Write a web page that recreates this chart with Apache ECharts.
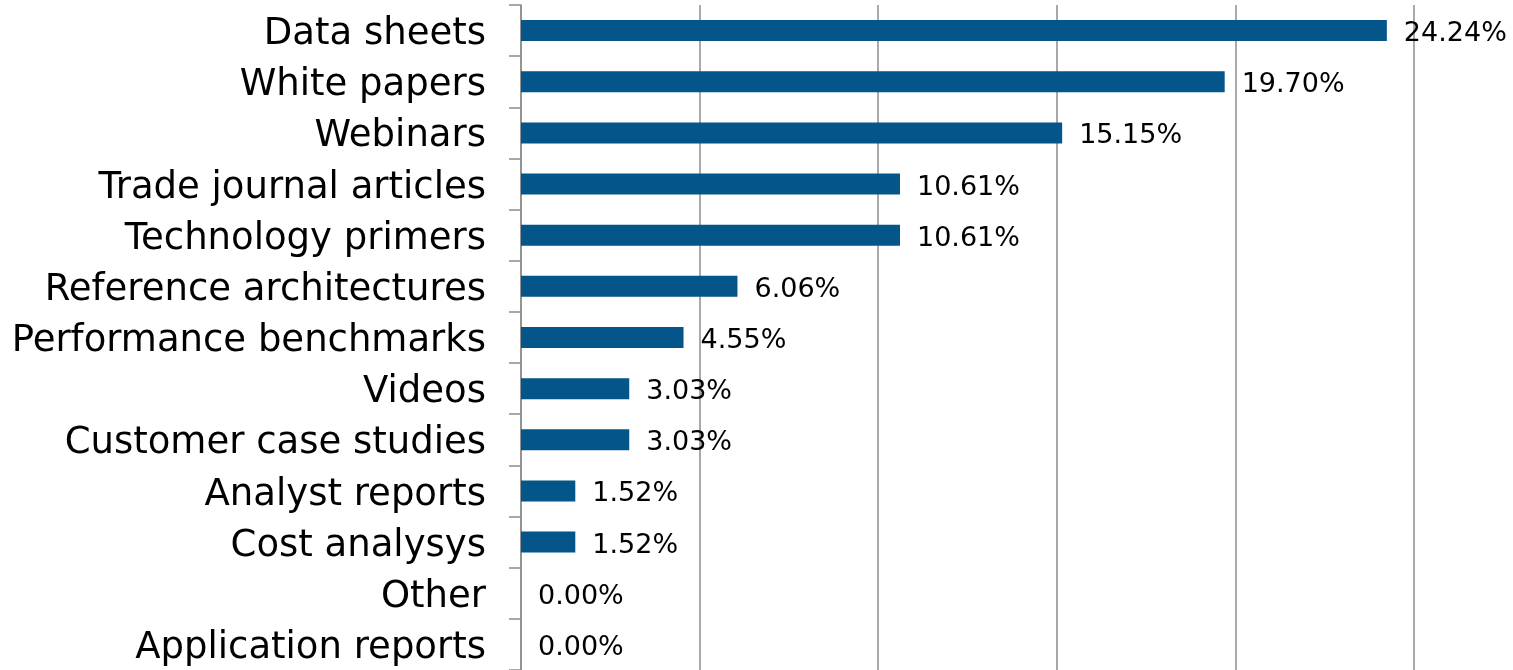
<!DOCTYPE html>
<html>
<head>
<meta charset="utf-8">
<script src="https://cdn.jsdelivr.net/npm/echarts@6/dist/echarts.min.js"></script>
<style>
html,body{margin:0;padding:0;background:#fff;}
#main{width:1513px;height:670px;}
</style>
</head>
<body>
<div id="main"></div>
<script>
// categories, top to bottom
var categories = ['Data sheets', 'White papers', 'Webinars', 'Trade journal articles',
    'Technology primers', 'Reference architectures', 'Performance benchmarks', 'Videos',
    'Customer case studies', 'Analyst reports', 'Cost analysys', 'Other', 'Application reports'];
var shares = [24.24, 19.70, 15.15, 10.61, 10.61, 6.06, 4.55, 3.03, 3.03, 1.52, 1.52, 0.00, 0.00];
var axisMax = 25;
var axisStep = 5;

var myChart = echarts.init(document.getElementById('main'));
var option = {
    backgroundColor: '#ffffff',
    animation: false,
    grid: {
        left: 521,
        top: 5,
        width: 893,
        height: 666
    },
    xAxis: {
        type: 'value',
        min: 0,
        max: axisMax,
        interval: axisStep,
        axisLine: { show: false },
        axisTick: { show: false },
        axisLabel: { show: false },
        splitLine: { show: true, lineStyle: { color: '#8c8c8c', width: 1.5 } }
    },
    yAxis: {
        type: 'category',
        data: categories,
        inverse: true,
        axisLine: { show: true, lineStyle: { color: '#8c8c8c', width: 1.5 } },
        axisTick: { show: true, length: 12, lineStyle: { color: '#8c8c8c', width: 1.5 } },
        axisLabel: {
            margin: 35,
            formatter: function (v) { return '{c|' + v + '}'; },
            rich: {
                c: {
                    fontFamily: 'DejaVu Sans',
                    fontSize: 37,
                    color: '#000',
                    padding: [8, 0, 0, 0]
                }
            }
        }
    },
    series: [{
        type: 'bar',
        data: shares,
        barWidth: 21,
        itemStyle: { color: '#03558a' },
        label: {
            show: true,
            position: 'right',
            distance: 17,
            formatter: function (p) { return '{v|' + p.value.toFixed(2) + '%}'; },
            rich: {
                v: {
                    fontFamily: 'DejaVu Sans',
                    fontSize: 27,
                    color: '#000',
                    padding: [7, 0, 0, 0]
                }
            }
        }
    }]
};
myChart.setOption(option);
</script>
</body>
</html>
